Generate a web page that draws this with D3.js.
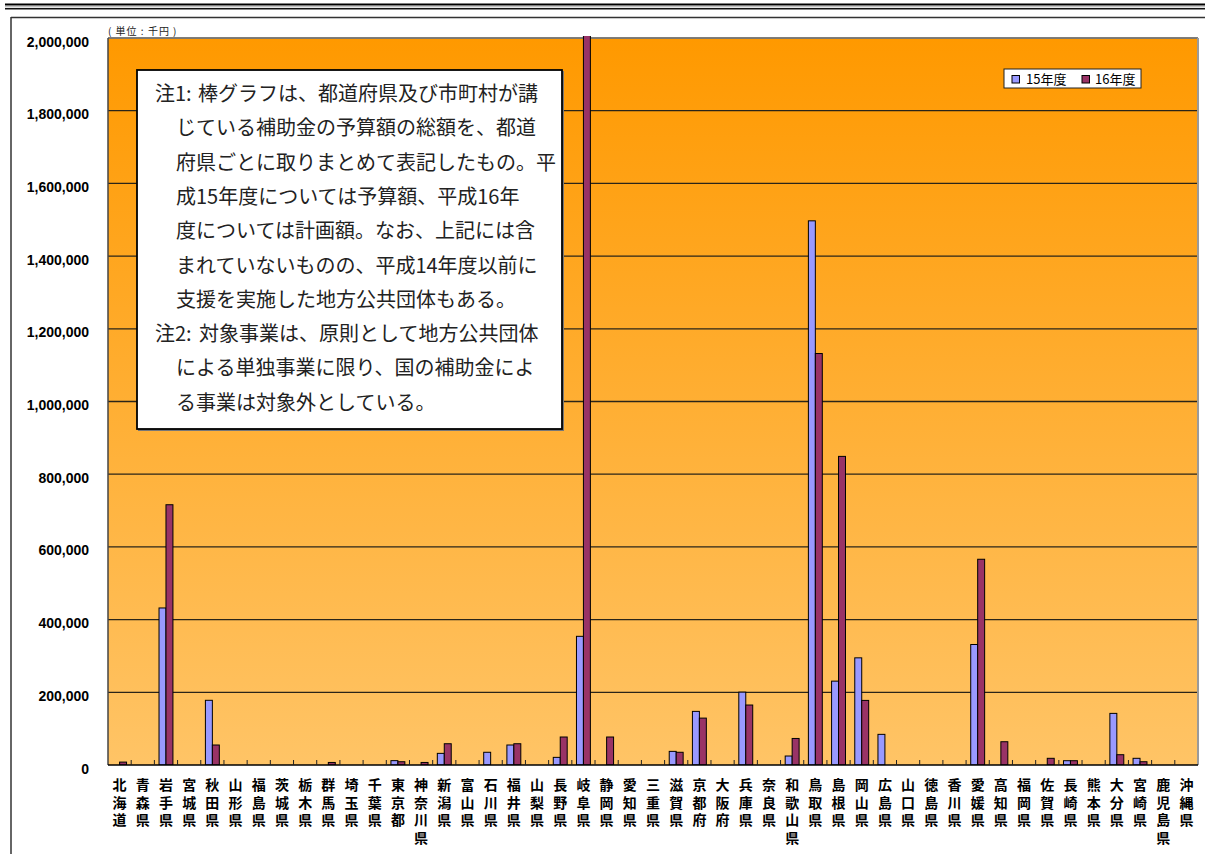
<!DOCTYPE html>
<html><head><meta charset="utf-8">
<script src="https://cdn.jsdelivr.net/npm/d3@7"></script>
<style>html,body{margin:0;padding:0;background:#fff;}svg{display:block;}</style>
</head><body>
<svg id="chart" width="1205" height="854"></svg>
<script>
const categories = ["北海道","青森県","岩手県","宮城県","秋田県","山形県","福島県","茨城県","栃木県","群馬県","埼玉県","千葉県","東京都","神奈川県","新潟県","富山県","石川県","福井県","山梨県","長野県","岐阜県","静岡県","愛知県","三重県","滋賀県","京都府","大阪府","兵庫県","奈良県","和歌山県","鳥取県","島根県","岡山県","広島県","山口県","徳島県","香川県","愛媛県","高知県","福岡県","佐賀県","長崎県","熊本県","大分県","宮崎県","鹿児島県","沖縄県"];
const values15 = [0,0,432000,0,178000,0,0,0,0,0,0,0,12000,0,32000,0,35000,55000,0,21000,354000,0,0,0,37500,147500,0,200500,0,24700,1497000,230700,294800,84300,0,0,0,331500,0,0,0,11800,0,142000,18400,0,0];
const values16 = [8000,0,716000,0,55000,0,0,0,0,7000,0,0,9000,7000,58500,0,0,58500,0,77000,2010000,77000,0,0,35000,129000,0,165000,0,73000,1132000,849000,177700,0,0,0,0,566000,64000,0,18400,11800,0,28300,9000,0,0];
const seriesNames = ["15年度","16年度"];
const yTicks = [0,200000,400000,600000,800000,1000000,1200000,1400000,1600000,1800000,2000000];
const unitLabel = "( 単位 : 千円 )";
const noteLines = [
  ["注1:","棒グラフは、都道府県及び市町村が講"],
  ["","じている補助金の予算額の総額を、都道"],
  ["","府県ごとに取りまとめて表記したもの。平"],
  ["","成15年度については予算額、平成16年"],
  ["","度については計画額。なお、上記には含"],
  ["","まれていないものの、平成14年度以前に"],
  ["","支援を実施した地方公共団体もある。"],
  ["注2:","対象事業は、原則として地方公共団体"],
  ["","による単独事業に限り、国の補助金によ"],
  ["","る事業は対象外としている。"]
];

const svg = d3.select("#chart");
const L = 108, R = 1198, T = 38, B = 765;
const colors = ["#9999FF","#993366"];
const jp = "'Noto Sans CJK JP','Noto Sans',sans-serif";

// page decoration lines
svg.append("line").attr("x1",5).attr("x2",1205).attr("y1",4.5).attr("y2",4.5).attr("stroke","#000").attr("stroke-width",2);
svg.append("line").attr("x1",5).attr("x2",1205).attr("y1",6.8).attr("y2",6.8).attr("stroke","#aaa").attr("stroke-width",1);
svg.append("line").attr("x1",5).attr("x2",1205).attr("y1",8.8).attr("y2",8.8).attr("stroke","#111").attr("stroke-width",1.5);
svg.append("line").attr("x1",11).attr("x2",1205).attr("y1",17.5).attr("y2",17.5).attr("stroke","#333").attr("stroke-width",1.5);
svg.append("line").attr("x1",11).attr("x2",11).attr("y1",17).attr("y2",854).attr("stroke","#333").attr("stroke-width",1.5);

const defs = svg.append("defs");
const grad = defs.append("linearGradient").attr("id","bg").attr("x1",0).attr("y1",0).attr("x2",0).attr("y2",1);
grad.append("stop").attr("offset","0%").attr("stop-color","#FF9900");
grad.append("stop").attr("offset","100%").attr("stop-color","#FFC466");
defs.append("clipPath").attr("id","clip").append("rect").attr("x",L).attr("y",T-2).attr("width",R-L).attr("height",B-T+2);

const x = d3.scaleBand().domain(categories).range([L,R]).paddingInner(0).paddingOuter(0);
const y = d3.scaleLinear().domain([0,2000000]).range([B,T]);

svg.append("rect").attr("x",L).attr("y",T).attr("width",R-L).attr("height",B-T).attr("fill","url(#bg)");

// gridlines
svg.append("g").selectAll("line").data(yTicks.filter(d=>d>0)).join("line")
  .attr("x1",L).attr("x2",R).attr("y1",d=>y(d)).attr("y2",d=>y(d))
  .attr("stroke","#2a2418").attr("stroke-width",1.3);

// plot borders
svg.append("line").attr("x1",L).attr("x2",R).attr("y1",T).attr("y2",T).attr("stroke","#8a8a8a").attr("stroke-width",1.5);
svg.append("line").attr("x1",R).attr("x2",R).attr("y1",T).attr("y2",B).attr("stroke","#9a9a9a").attr("stroke-width",2);

// y labels
svg.append("g").selectAll("text").data(yTicks).join("text")
  .attr("x",89).attr("y",d=>y(d)+8.5).attr("text-anchor","end")
  .attr("font-family","'Liberation Sans',Arial,sans-serif").attr("font-weight","bold").attr("font-size","14px").attr("fill","#000")
  .text(d=>d3.format(",")(d));

// unit label
svg.append("text").attr("x",108).attr("y",35).attr("font-family",jp).attr("font-size","10px").attr("letter-spacing","1px").attr("fill","#222").text(unitLabel);

// bars
const bw = x.bandwidth()*0.3;
const gBars = svg.append("g").attr("clip-path","url(#clip)");
[values15, values16].forEach((vals, s) => {
  gBars.append("g").selectAll("rect").data(categories.map((c,i)=>({c,v:vals[i]})).filter(d=>d.v>0)).join("rect")
    .attr("x",d=>x(d.c)+x.bandwidth()/2 - bw + s*bw)
    .attr("y",d=>y(d.v))
    .attr("width",bw)
    .attr("height",d=>B-y(d.v))
    .attr("fill",colors[s]).attr("stroke","#000").attr("stroke-width",1);
});

// axes lines
svg.append("line").attr("x1",L).attr("x2",L).attr("y1",T).attr("y2",B).attr("stroke","#444").attr("stroke-width",1.5);
svg.append("line").attr("x1",L).attr("x2",R).attr("y1",B).attr("y2",B).attr("stroke","#000").attr("stroke-width",1.5);
// x ticks (category boundaries)
svg.append("g").selectAll("line").data(categories.slice(1)).join("line")
  .attr("x1",d=>x(d)).attr("x2",d=>x(d)).attr("y1",B).attr("y2",B-5)
  .attr("stroke","#222").attr("stroke-width",1);

// x labels (vertical)
const xl = svg.append("g").selectAll("text").data(categories).join("text")
  .attr("text-anchor","middle").attr("font-family",jp).attr("font-weight","bold").attr("font-size","14px").attr("fill","#000");
xl.each(function(d){
  const t = d3.select(this);
  Array.from(d).forEach((ch,i)=>{
    t.append("tspan").attr("x",x(d)+x.bandwidth()/2).attr("y",790+i*17.7).text(ch);
  });
});

// note box
svg.append("rect").attr("x",138).attr("y",71).attr("width",426).attr("height",360).attr("fill","#777");
svg.append("rect").attr("x",137).attr("y",70).attr("width",425).attr("height",359).attr("fill","#fff").attr("stroke","#000").attr("stroke-width",1.8);
const nt = svg.append("g").attr("font-family",jp).attr("font-size","20px").attr("fill","#222");
noteLines.forEach((ln,i)=>{
  const by = 101 + i*34.3;
  if (ln[0]) {
    nt.append("text").attr("x",155).attr("y",by).text(ln[0]);
    nt.append("text").attr("x",i===0?198:199).attr("y",by).text(ln[1]);
  } else {
    nt.append("text").attr("x",176).attr("y",by).text(ln[1]);
  }
});

// legend
const lg = svg.append("g");
lg.append("rect").attr("x",1004).attr("y",69).attr("width",137).attr("height",19).attr("fill","#fff").attr("stroke","#222").attr("stroke-width",1);
const lx = [1012,1082], tx = [1026,1095];
seriesNames.forEach((n,i)=>{
  lg.append("rect").attr("x",lx[i]).attr("y",75.5).attr("width",7.5).attr("height",7.5).attr("fill",colors[i]).attr("stroke","#000").attr("stroke-width",1);
  lg.append("text").attr("x",tx[i]).attr("y",84).attr("font-family",jp).attr("font-size","13px").attr("fill","#000").text(n);
});
</script>
</body></html>
